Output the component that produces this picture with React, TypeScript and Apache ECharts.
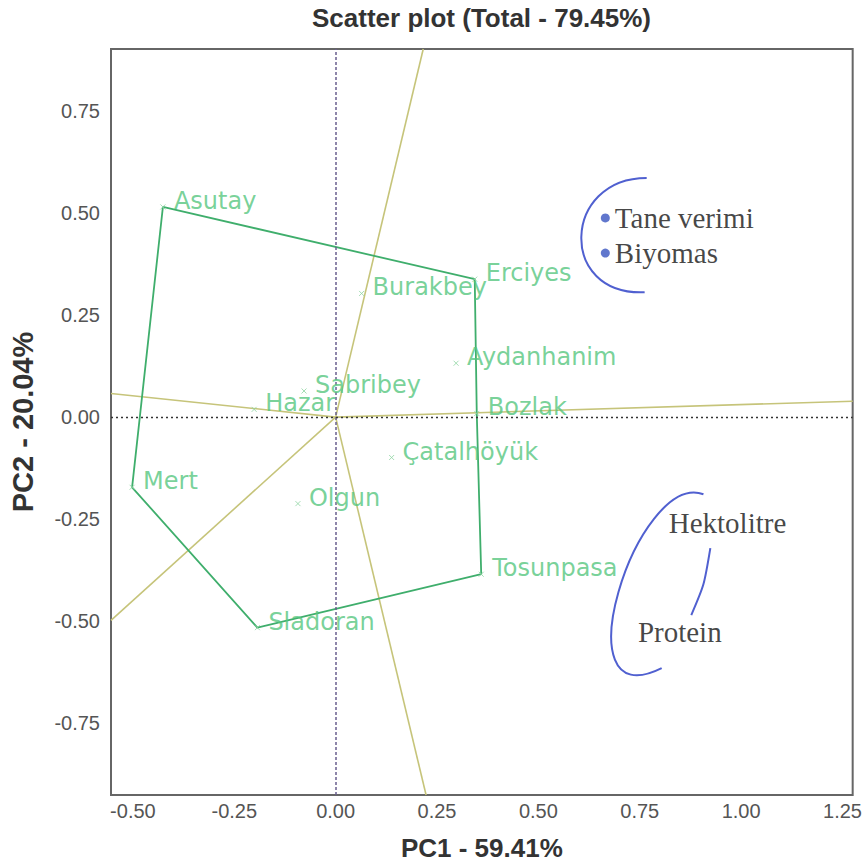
import React, { useEffect, useRef } from "react";
import * as echarts from "echarts";

// Genotype scores (PC1, PC2)
const genotypeNames = ["Asutay", "Burakbey", "Erciyes", "Aydanhanim", "Sabribey", "Hazar", "Bozlak", "Çatalhöyük", "Mert", "Olgun", "Tosunpasa", "Sladoran"];
const genotypePC1 = [-0.426, 0.064, 0.343, 0.297, -0.078, -0.201, 0.348, 0.138, -0.502, -0.093, 0.359, -0.193];
const genotypePC2 = [0.515, 0.303, 0.338, 0.132, 0.064, 0.019, 0.009, -0.099, -0.172, -0.212, -0.385, -0.516];

// Convex hull order
const hullOrder = ["Asutay", "Erciyes", "Bozlak", "Tosunpasa", "Sladoran", "Mert", "Asutay"];

// Trait vector rays (from origin to plot border)
const rayPC1 = [0.216, 0.223, -0.554, -0.554, 1.275];
const rayPC2 = [0.902, -0.926, 0.058, -0.498, 0.039];

// Trait annotations
const traitNames = ["Tane verimi", "Biyomas", "Hektolitre", "Protein"];
const traitPC1 = [0.665, 0.665, 0.809, 0.733];
const traitPC2 = [0.488, 0.402, -0.26, -0.527];
const traitDot = [true, true, false, false];

// Hand-drawn grouping arcs (cubic bezier: start, cp1, cp2, end)
const arcCurves = [
  [0.767, 0.586, 0.559, 0.586, 0.547, 0.297, 0.762, 0.306],
  [0.907, -0.189, 0.743, -0.13, 0.547, -0.743, 0.804, -0.615],
  [0.924, -0.321, 0.909, -0.412, 0.909, -0.412, 0.877, -0.485],
];

// Axis ticks
const xTicks = [-0.5, -0.25, 0, 0.25, 0.5, 0.75, 1.0, 1.25];
const yTicks = [-0.75, -0.5, -0.25, 0, 0.25, 0.5, 0.75];

const X_MIN = -0.554;
const X_MAX = 1.275;
const Y_MIN = -0.926;
const Y_MAX = 0.902;

export default function App() {
  const ref = useRef<HTMLDivElement>(null);

  useEffect(() => {
    document.body.style.margin = "0";
    document.body.style.overflow = "hidden";
    if (!ref.current) return;
    const chart = echarts.init(ref.current, undefined, { renderer: "svg" });

    const idx = (n: string) => genotypeNames.indexOf(n);
    const hullData = hullOrder.map((n) => [genotypePC1[idx(n)], genotypePC2[idx(n)]]);

    const raySeries = rayPC1.map((x, i) => ({
      type: "line",
      data: [
        [0, 0],
        [x, rayPC2[i]],
      ],
      symbol: "none",
      lineStyle: { color: "#c6c47a", width: 1.6 },
      z: 3,
      silent: true,
    }));

    const option: any = {
      animation: false,
      backgroundColor: "#ffffff",
      title: {
        text: "Scatter plot (Total - 79.45%)",
        left: 312,
        top: 5,
        padding: 0,
        textStyle: {
          fontFamily: "Liberation Sans",
          fontWeight: "bold",
          fontSize: 26,
          color: "#333333",
        },
      },
      grid: {
        left: 111,
        right: 8,
        top: 49,
        bottom: 71,
        show: true,
        borderColor: "#666666",
        borderWidth: 2,
        backgroundColor: "transparent",
      },
      xAxis: {
        type: "value",
        min: X_MIN,
        max: X_MAX,
        name: "PC1 - 59.41%",
        nameLocation: "middle",
        nameGap: 40,
        nameTextStyle: {
          fontFamily: "Liberation Sans",
          fontWeight: "bold",
          fontSize: 26,
          color: "#333333",
        },
        axisLine: { show: false },
        axisTick: { show: false },
        splitLine: { show: false },
        axisLabel: {
          customValues: xTicks,
          formatter: (v: number) => v.toFixed(2),
          fontFamily: "Liberation Sans",
          fontSize: 20,
          color: "#555555",
          margin: 6,
        },
      },
      yAxis: {
        type: "value",
        min: Y_MIN,
        max: Y_MAX,
        name: "PC2 - 20.04%",
        nameLocation: "middle",
        nameGap: 74,
        nameTextStyle: {
          fontFamily: "Liberation Sans",
          fontWeight: "bold",
          fontSize: 29,
          color: "#333333",
        },
        axisLine: { show: false },
        axisTick: { show: false },
        splitLine: { show: false },
        axisLabel: {
          customValues: yTicks,
          formatter: (v: number) => v.toFixed(2),
          fontFamily: "Liberation Sans",
          fontSize: 20,
          color: "#555555",
          margin: 11,
        },
      },
      series: [
        {
          type: "line",
          data: [],
          silent: true,
          markLine: {
            silent: true,
            symbol: "none",
            label: { show: false },
            data: [
              { xAxis: 0, lineStyle: { color: "#6a5f8e", type: [3, 2], width: 1.5 } },
              { yAxis: 0, lineStyle: { color: "#333333", type: [2, 3], width: 1.3 } },
            ],
          },
          z: 2,
        },
        ...raySeries,
        {
          type: "line",
          data: hullData,
          symbol: "none",
          lineStyle: { color: "#3fae6c", width: 1.8 },
          z: 4,
          silent: true,
        },
        {
          type: "scatter",
          data: genotypeNames.map((n, i) => ({ name: n, value: [genotypePC1[i], genotypePC2[i]] })),
          symbol: "path://M0,0L10,10M10,0L0,10",
          symbolSize: 5,
          itemStyle: { color: "none", borderColor: "#8fd4a2", borderWidth: 1 },
          label: {
            show: true,
            position: "right",
            distance: 4,
            offset: [2, -6],
            lineHeight: 18,
            formatter: (p: any) => p.name,
            fontFamily: "DejaVu Sans",
            fontSize: 24,
            color: "#55c67e",
          },
          z: 6,
        },
        {
          type: "scatter",
          data: traitNames.map((n, i) => ({
            name: n,
            value: [traitPC1[i], traitPC2[i]],
            symbolSize: traitDot[i] ? 9 : 0,
          })),
          symbol: "circle",
          itemStyle: { color: "#3a55c0" },
          label: {
            show: true,
            position: "right",
            distance: 5,
            lineHeight: 26,
            formatter: (p: any) => p.name,
            fontFamily: "Liberation Serif",
            fontSize: 29,
            color: "#151515",
          },
          z: 7,
        },
        {
          type: "custom",
          data: arcCurves,
          clip: false,
          silent: true,
          encode: { x: [0, 2, 4, 6], y: [1, 3, 5, 7] },
          renderItem: (params: any, api: any) => {
            const pts = [0, 2, 4, 6].map((k) => api.coord([api.value(k), api.value(k + 1)]));
            return {
              type: "bezierCurve",
              shape: {
                x1: pts[0][0],
                y1: pts[0][1],
                cpx1: pts[1][0],
                cpy1: pts[1][1],
                cpx2: pts[2][0],
                cpy2: pts[2][1],
                x2: pts[3][0],
                y2: pts[3][1],
              },
              style: { stroke: "#5060d0", fill: null, lineWidth: 2 },
            };
          },
          z: 8,
        },
      ],
    };

    chart.setOption(option);
    return () => chart.dispose();
  }, []);

  return <div ref={ref} style={{ width: 865, height: 866 }} />;
}
